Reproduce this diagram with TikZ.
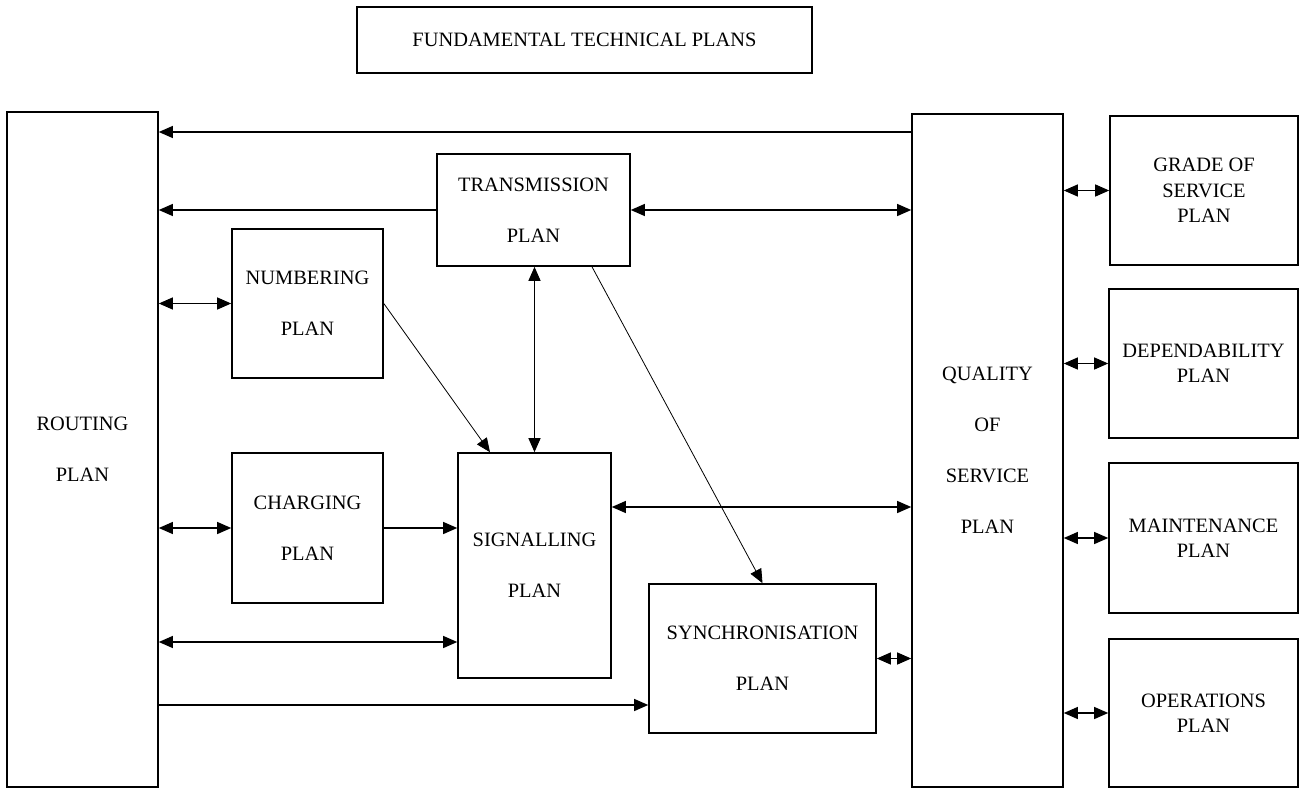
\documentclass[tikz,border=0pt]{standalone}
\usepackage{fontspec}
\setmainfont{Liberation Serif}
\usetikzlibrary{arrows.meta}

\begin{document}
\begin{tikzpicture}[x=1pt,y=-1pt,
  plan/.style={draw, line width=1.6pt, align=center, inner sep=0pt,
    font=\fontsize{20.4}{25.5}\selectfont},
  wide/.style={plan, font=\fontsize{20.4}{51}\selectfont},
  link/.style={line width=1.1pt, -{Triangle[length=14pt,width=12pt]}},
  both/.style={line width=1.1pt, {Triangle[length=14pt,width=12pt]}-{Triangle[length=14pt,width=12pt]}},
  slant/.style={line width=0.8pt, -{Triangle[length=14pt,width=12pt]}}]

  % page frame
  \fill[white] (0,0) rectangle (1301,789);
  \useasboundingbox (0,0) rectangle (1301,789);

  % title
  \node[plan, minimum width=455pt, minimum height=66pt] (title) at (584.5,40)
    {FUNDAMENTAL TECHNICAL PLANS};

  % main column boxes
  \node[wide, minimum width=151pt, minimum height=675pt] (routing) at (82.5,449.5)
    {ROUTING\\PLAN};
  \node[wide, minimum width=151pt, minimum height=673pt] (qos) at (987.5,450.5)
    {QUALITY\\OF\\SERVICE\\PLAN};

  % inner plans
  \node[wide, minimum width=193pt, minimum height=112pt] (trans) at (533.5,210)
    {TRANSMISSION\\PLAN};
  \node[wide, minimum width=151pt, minimum height=149pt] (numbering) at (307.5,303.5)
    {NUMBERING\\PLAN};
  \node[wide, minimum width=151pt, minimum height=150pt] (charging) at (307.5,528)
    {CHARGING\\PLAN};
  \node[wide, minimum width=153pt, minimum height=225pt] (signalling) at (534.5,565.5)
    {SIGNALLING\\PLAN};
  \node[wide, minimum width=227pt, minimum height=149pt] (sync) at (762.5,658.5)
    {SYNCHRONISATION\\PLAN};

  % quality related plans
  \node[plan, minimum width=188pt, minimum height=149pt] (grade) at (1204,190.5)
    {GRADE OF\\SERVICE\\PLAN};
  \node[plan, minimum width=189pt, minimum height=149pt] (dep) at (1203.5,363.5)
    {DEPENDABILITY\\PLAN};
  \node[plan, minimum width=189pt, minimum height=150pt] (maint) at (1203.5,538)
    {MAINTENANCE\\PLAN};
  \node[plan, minimum width=189pt, minimum height=148pt] (ops) at (1203.5,713)
    {OPERATIONS\\PLAN};

  % connectors to the routing plan
  \draw[link] (qos.west |- 0,132) -- (routing.east |- 0,132);
  \draw[link] (trans.west) -- (routing.east |- trans.west);
  \draw[both] (routing.east |- numbering.west) -- (numbering.west);
  \draw[both] (routing.east |- charging.west) -- (charging.west);
  \draw[both] (routing.east |- 0,642) -- (signalling.west |- 0,642);
  \draw[link] (routing.east |- 0,705) -- (sync.west |- 0,705);

  % connectors between inner plans
  \draw[link] (charging.east) -- (signalling.west |- charging.east);
  \draw[both] (trans.south -| signalling.north) -- (signalling.north);
  \draw[slant] (numbering.east) -- (signalling.north -| 490,0);
  \draw[slant] (trans.south -| 592,0) -- (sync.north);

  % connectors to the quality of service plan
  \draw[both] (trans.east) -- (qos.west |- trans.east);
  \draw[both] (signalling.east |- 0,507) -- (qos.west |- 0,507);
  \draw[both] (sync.east) -- (qos.west |- sync.east);

  % quality related plans
  \draw[both] (qos.east |- grade.west) -- (grade.west);
  \draw[both] (qos.east |- dep.west) -- (dep.west);
  \draw[both] (qos.east |- maint.west) -- (maint.west);
  \draw[both] (qos.east |- ops.west) -- (ops.west);
\end{tikzpicture}
\end{document}
